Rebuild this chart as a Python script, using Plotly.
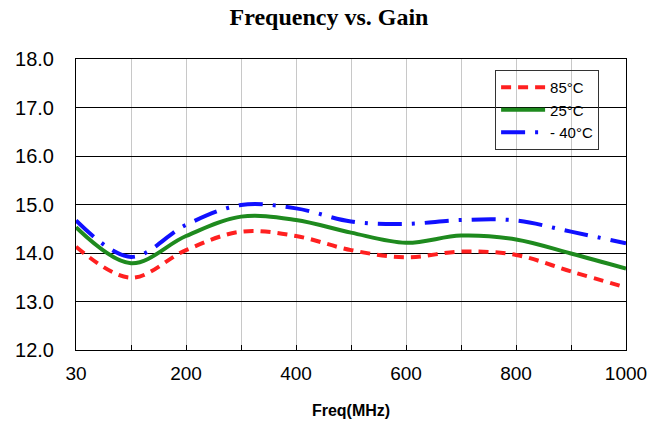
import plotly.graph_objects as go

freq_labels = ["30", "100", "200", "300", "400", "500", "600", "700", "800", "900", "1000"]
tick_text = ["30", "", "200", "", "400", "", "600", "", "800", "", "1000"]
gain_85 = [14.13, 13.49, 14.06, 14.44, 14.35, 14.06, 13.91, 14.03, 13.96, 13.62, 13.29]
gain_25 = [14.53, 13.79, 14.35, 14.75, 14.68, 14.42, 14.21, 14.36, 14.28, 13.99, 13.68]
gain_m40 = [14.67, 13.92, 14.58, 14.99, 14.92, 14.65, 14.60, 14.68, 14.67, 14.44, 14.20]
y_ticks = [12, 13, 14, 15, 16, 17, 18]

xpos = list(range(len(freq_labels)))

fig = go.Figure()
fig.add_trace(go.Scatter(x=xpos, y=gain_85, mode="lines", name="85°C",
                         line=dict(color="#ff2020", width=4, dash="10px,7px", shape="spline", smoothing=1.0)))
fig.add_trace(go.Scatter(x=xpos, y=gain_25, mode="lines", name="25°C",
                         line=dict(color="#1e8a1e", width=4, shape="spline", smoothing=1.0)))
fig.add_trace(go.Scatter(x=xpos, y=gain_m40, mode="lines", name="- 40°C",
                         line=dict(color="#1010ff", width=4, dash="24px,10px,3px,10px", shape="spline", smoothing=1.0)))

fig.update_layout(
    width=658, height=437,
    margin=dict(l=76, r=32, t=59, b=87),
    paper_bgcolor="white", plot_bgcolor="white",
    title=dict(text="<b>Frequency vs. Gain</b>", x=0.5, xanchor="center", y=0.962, yanchor="middle",
               font=dict(family="Liberation Serif, Times New Roman, serif", size=24, color="black")),
    font=dict(family="Liberation Sans, Arial, sans-serif", color="black"),
    legend=dict(x=0.762, y=0.962, xanchor="left", yanchor="top",
                bordercolor="#333333", borderwidth=1, bgcolor="rgba(255,255,255,0)",
                font=dict(family="Liberation Sans Narrow, Arial Narrow, Liberation Sans, sans-serif", size=15, color="black"),
                tracegroupgap=0, itemwidth=44),
    showlegend=True,
)
fig.update_xaxes(
    range=[0, 10], tickmode="array", tickvals=xpos, ticktext=tick_text,
    showgrid=True, gridcolor="#c8c8c8", gridwidth=1,
    showline=True, linecolor="black", linewidth=1, mirror=True,
    ticks="inside", ticklen=5, tickcolor="black",
    tickfont=dict(size=19, family="Liberation Sans, Arial, sans-serif"),
    ticklabelstandoff=6,
    zeroline=False,
    title=dict(text="<b>Freq(MHz)</b>", font=dict(size=16, family="Liberation Sans, Arial, sans-serif"), standoff=22),
)
fig.update_yaxes(
    range=[12, 18], tickmode="array", tickvals=y_ticks, ticktext=[f"{v:.1f}" for v in y_ticks],
    showgrid=True, gridcolor="black", gridwidth=1,
    showline=True, linecolor="black", linewidth=1, mirror=True,
    ticks="", zeroline=False,
    tickfont=dict(size=20, family="Liberation Sans, Arial, sans-serif"),
    ticklabelstandoff=17,
)

fig.write_html("out.html")
